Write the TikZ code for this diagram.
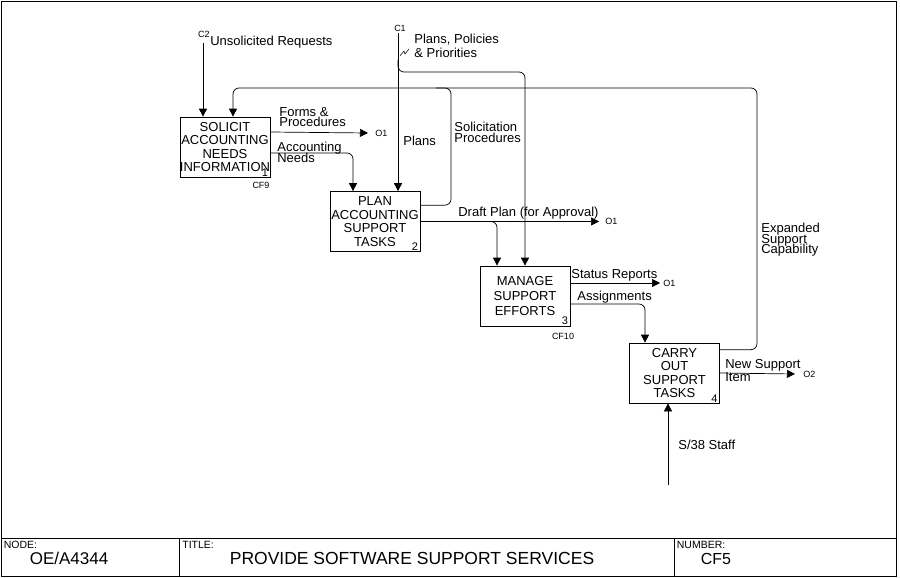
\documentclass[tikz,border=0pt]{standalone}
\usepackage{fontspec}
\setmainfont{Liberation Sans}
\usetikzlibrary{arrows.meta}
\newcommand\tightlines{\setlength{\lineskiplimit}{-20pt}}

\begin{document}
\begin{tikzpicture}[
        x=1pt, y=-1pt,
        line width=0.7pt,
        box/.style={draw, minimum width=90pt, minimum height=60pt, inner sep=0pt,
                    align=center, font=\fontsize{13}{13.5}\selectfont},
        arr/.style={-{Triangle[length=8pt, width=8pt]}, rounded corners=6pt},
        lab/.style={font=\fontsize{13}{10.5}\selectfont\tightlines,
                    align=left, inner sep=0pt},
        tag/.style={font=\fontsize{9}{9}\selectfont, inner sep=0pt},
        num/.style={font=\fontsize{11}{11}\selectfont, inner xsep=2pt, inner ysep=1pt}
    ]

    \useasboundingbox (0,0) rectangle (900,578);

    % Frame and title block
    \draw (1.5,1.5) rectangle (896,576.5);
    \draw (1.5,538.5) -- (896,538.5);
    \draw (179,538.5) -- (179,576.5);
    \draw (674,538.5) -- (674,576.5);

    \node[font=\fontsize{10.5}{10.5}\selectfont, anchor=north west, inner sep=0pt] (nodelab) at (3.5,541) {NODE:};
    \node[font=\fontsize{17}{17}\selectfont] (nodeval) at (69,558.5) {OE/A4344};
    \node[font=\fontsize{10.5}{10.5}\selectfont, anchor=north west, inner sep=0pt] (titlelab) at (182,541) {TITLE:};
    \node[font=\fontsize{17.5}{17.5}\selectfont] (titleval) at (412,558) {PROVIDE SOFTWARE SUPPORT SERVICES};
    \node[font=\fontsize{10.5}{10.5}\selectfont, anchor=north west, inner sep=0pt] (numlab) at (676.5,541) {NUMBER:};
    \node[font=\fontsize{16}{16}\selectfont] (numval) at (716,558.5) {CF5};

    % Activity boxes
    \node[box] (solicit) at (225,147) {SOLICIT\\ACCOUNTING\\NEEDS\\INFORMATION};
    \node[box] (plan) at (375,221.5) {PLAN\\ACCOUNTING\\SUPPORT\\TASKS};
    \node[box] (manage) at (525,296) {MANAGE\\[1.5pt]SUPPORT\\[1.5pt]EFFORTS};
    \node[box] (carry) at (674.5,373) {CARRY\\OUT\\SUPPORT\\TASKS};

    \node[num, anchor=south east] (n1) at (solicit.south east) {1};
    \node[num, anchor=south east] (n2) at (plan.south east) {2};
    \node[num, anchor=south east] (n3) at (manage.south east) {3};
    \node[num, anchor=south east] (n4) at (carry.south east) {4};
    \node[tag] (cf9) at (261,185) {CF9};
    \node[tag] (cf10) at (563,336) {CF10};

    % Controls
    \coordinate (c2) at (203,43);
    \node[tag] (c2tag) at (204,34) {C2};
    \node[lab, anchor=base west] (c2lab) at (210,46) {Unsolicited Requests};
    \draw[arr] (c2) -- ([xshift=-22pt]solicit.north);

    \coordinate (c1) at (398,33);
    \node[tag] (c1tag) at (400,28.5) {C1};
    \node[lab, anchor=north west] (c1lab) at (414,34) {Plans, Policies\\[3.5pt]\& Priorities};
    \draw[line width=0.5pt] (400,56) -- (404,51) -- (405,54) -- (409,49);
    \draw[arr] (c1) -- ([xshift=23pt]plan.north);
    \node[lab, anchor=base west] (planslab) at (403,145) {Plans};

    \coordinate (c1split) at (398,60);
    \coordinate (c1turn) at (525,72);
    \draw[arr] (c1split) |- (c1turn) -- (manage.north);

    % Feedback to box 1
    \coordinate (fbtop) at (757,88);
    \draw[arr] ([yshift=-7pt]carry.north east) -| (fbtop) -| ([xshift=8pt]solicit.north);
    \node[lab, anchor=north west] (fblab) at (761,223) {Expanded\\Support\\Capability};

    \coordinate (soltop) at (451,88);
    \coordinate (soljoin) at (436,88);
    \draw[rounded corners=6pt] ([yshift=-14pt]plan.north east) -| (soltop) -- (soljoin);
    \node[lab, anchor=north west] (sollab) at (454,122) {Solicitation\\Procedures};

    % Outputs of box 1
    \node[tag, anchor=west] (o1a) at (375,133) {O1};
    \draw[arr] ([yshift=15pt]solicit.east) -- ([xshift=-7pt]o1a.west);
    \node[lab, anchor=north west] (formslab) at (279,107) {Forms \&\\Procedures};

    \draw[arr] ([yshift=-6pt]solicit.east) -| ([xshift=-22pt]plan.north);
    \node[lab, anchor=north west] (acclab) at (277,142) {Accounting\\Needs};

    % Outputs of box 2
    \node[tag, anchor=west] (o1b) at (605,221.5) {O1};
    \draw[arr] (plan.east) -- ([xshift=-6pt]o1b.west);
    \coordinate (dpsplit) at (488,221.5);
    \draw[arr] (dpsplit) -| ([xshift=-28pt]manage.north);
    \node[lab, anchor=base west] (dplab) at (458,216.5) {Draft Plan (for Approval)};

    % Outputs of box 3
    \node[tag, anchor=west] (o1c) at (663,283) {O1};
    \draw[arr] ([yshift=13pt]manage.east) -- ([xshift=-3pt]o1c.west);
    \node[lab, anchor=base west] (statlab) at (571,278.5) {Status Reports};

    \draw[arr] ([yshift=-8pt]manage.east) -| ([xshift=-29.5pt]carry.north);
    \node[lab, anchor=base west] (asslab) at (577,300) {Assignments};

    % Output and mechanism of box 4
    \node[tag, anchor=west] (o2) at (803,374) {O2};
    \draw[arr] (carry.east) -- ([xshift=-8pt]o2.west);
    \node[lab, anchor=north west] (newlab) at (725,359) {New Support\\[2.5pt]Item};

    \coordinate (mech) at (668,485);
    \draw[arr] (mech) -- ([xshift=-6.5pt]carry.south);
    \node[lab, anchor=base west] (stafflab) at (678,449) {S/38 Staff};

\end{tikzpicture}
\end{document}
